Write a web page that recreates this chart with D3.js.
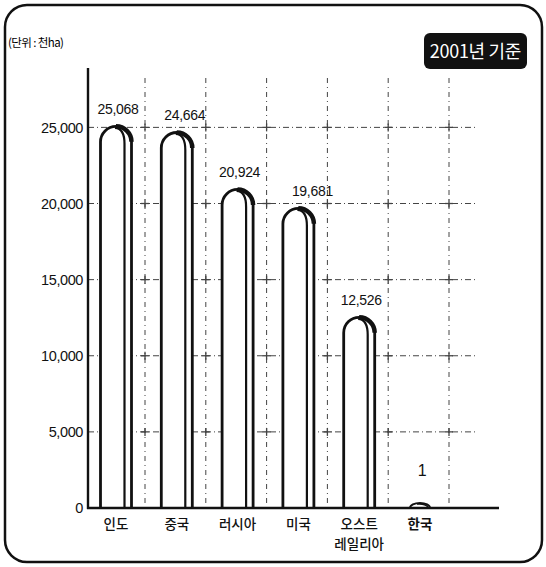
<!DOCTYPE html>
<html>
<head>
<meta charset="utf-8">
<script src="https://cdn.jsdelivr.net/npm/d3@7"></script>
<style>
  html, body { margin: 0; padding: 0; background: #fff; }
  svg { display: block; }
</style>
</head>
<body>
<div id="chart"></div>
<script>
// 국가별 경지면적 (2001년 기준, 단위: 천ha)
const countries = ["인도", "중국", "러시아", "미국", "오스트레일리아", "한국"];
const labelLines = [["인도"], ["중국"], ["러시아"], ["미국"], ["오스트", "레일리아"], ["한국"]];
const areas = [25068, 24664, 20924, 19681, 12526, 1];
const yTicks = [0, 5000, 10000, 15000, 20000, 25000];

const W = 546, H = 567;
const M = { top: 68, left: 88, bottom: 59 };
const baseY = H - M.bottom;

const svg = d3.select("#chart").append("svg").attr("width", W).attr("height", H);

const data = countries.map((c, i) => ({ name: c, lines: labelLines[i], value: areas[i] }));

const x = d3.scalePoint().domain(countries).range([116, 420]);
const y = d3.scaleLinear().domain([0, 28900]).range([baseY, M.top]);
const bw = 31, r = bw / 2;
const fmt = d3.format(",");

// 바깥 테두리
svg.append("rect")
  .attr("x", 5).attr("y", 5).attr("width", W - 9).attr("height", H - 10)
  .attr("rx", 22).attr("fill", "none").attr("stroke", "#111").attr("stroke-width", 2.5);

// 단위
svg.append("text").attr("x", 8).attr("y", 47)
  .style("font-family", "'Noto Sans CJK KR', sans-serif").style("font-size", "11.5px")
  .style("letter-spacing", "-0.6px").text("(단위 : 천ha)");

// 기준 배지
const badge = svg.append("g").attr("transform", "translate(424,33)");
badge.append("rect").attr("width", 103).attr("height", 36).attr("rx", 6).attr("fill", "#111");
badge.append("text").attr("x", 51.5).attr("y", 25).attr("text-anchor", "middle")
  .style("font-family", "'Noto Sans CJK KR', sans-serif").style("font-size", "18px")
  .style("letter-spacing", "-0.3px").style("fill", "#fff").text("2001년 기준");

// 격자 (점선 + 십자)
const gx = countries.map(c => x(c) + 29);
const grid = svg.append("g").attr("stroke", "#444").attr("stroke-width", 1);
yTicks.filter(t => t > 0).forEach(t => {
  grid.append("line").attr("x1", M.left).attr("x2", 475)
    .attr("y1", y(t)).attr("y2", y(t)).attr("stroke-dasharray", "6,3,1,3");
});
gx.forEach(gxv => {
  grid.append("line").attr("x1", gxv).attr("x2", gxv)
    .attr("y1", 78).attr("y2", baseY).attr("stroke-dasharray", "5,4,1,4");
  yTicks.filter(t => t > 0).forEach(t => {
    grid.append("line").attr("x1", gxv - 4).attr("x2", gxv + 4).attr("y1", y(t)).attr("y2", y(t)).attr("stroke-width", 1.3);
    grid.append("line").attr("x1", gxv).attr("x2", gxv).attr("y1", y(t) - 4).attr("y2", y(t) + 4).attr("stroke-width", 1.3);
  });
});

// 막대 (둥근 튜브 모양)
const bars = svg.append("g");
data.forEach(d => {
  const cx = x(d.name), L = cx - r, R = cx + r;
  const top = y(d.value);
  const h = baseY - top;
  if (h < r) {
    // 아주 작은 값: 납작한 반원
    const hw = 10, hh = Math.max(h, 5);
    bars.append("path")
      .attr("d", `M${cx - hw},${baseY} A${hw},${hh} 0 0 1 ${cx + hw},${baseY}`)
      .attr("fill", "#fff").attr("stroke", "#111").attr("stroke-width", 2);
    bars.append("path")
      .attr("d", `M${cx - 3},${baseY - hh + 1} A${hw},${hh} 0 0 1 ${cx + hw - 2},${baseY - 1}`)
      .attr("fill", "none").attr("stroke", "#111").attr("stroke-width", 1.5);
    return;
  }
  bars.append("path")
    .attr("d", `M${L},${baseY} L${L},${top + r} A${r},${r} 0 0 1 ${R},${top + r} L${R},${baseY}`)
    .attr("fill", "#fff").attr("stroke", "#111").attr("stroke-width", 2.8);
  // 안쪽 하이라이트 선
  const ix = R - 7;
  bars.append("path")
    .attr("d", `M${cx - 1},${top + 1.5} Q${ix},${top + 2} ${ix},${top + r + 2} L${ix},${baseY}`)
    .attr("fill", "none").attr("stroke", "#111").attr("stroke-width", 2.2);
  // 오른쪽 위 두꺼운 그늘
  bars.append("path")
    .attr("d", `M${cx},${top} A${r},${r} 0 0 1 ${R},${top + r}`)
    .attr("fill", "none").attr("stroke", "#111").attr("stroke-width", 4.5);
});

// 값 라벨
svg.append("g").selectAll("text").data(data).join("text")
  .attr("x", d => x(d.name) + (d.name === "미국" ? 14 : d.name === "중국" ? 8 : 2))
  .attr("y", d => d.value < 100 ? y(d.value) - 32 : y(d.value) - 12)
  .attr("text-anchor", "middle")
  .style("font-family", "'Liberation Sans', Arial, sans-serif")
  .style("font-size", d => d.value < 100 ? "16px" : "14px")
  .style("letter-spacing", "-0.3px")
  .style("fill", "#111")
  .text(d => fmt(d.value));

// y축
const yAxis = svg.append("g").attr("transform", `translate(${M.left},0)`)
  .call(d3.axisLeft(y).tickValues(yTicks).tickFormat(d => fmt(d)).tickSize(0).tickPadding(5));
yAxis.select(".domain").remove();
yAxis.selectAll("text")
  .style("font-family", "'Liberation Sans', Arial, sans-serif").style("font-size", "14.5px")
  .style("letter-spacing", "-0.4px").style("fill", "#111");
svg.append("line").attr("x1", M.left).attr("x2", M.left).attr("y1", M.top).attr("y2", baseY + 1)
  .attr("stroke", "#111").attr("stroke-width", 2.4);

// x축
svg.append("line").attr("x1", M.left - 1).attr("x2", 499).attr("y1", baseY).attr("y2", baseY)
  .attr("stroke", "#111").attr("stroke-width", 2.4);

const xl = svg.append("g");
data.forEach(d => {
  d.lines.forEach((ln, i) => {
    xl.append("text").attr("x", x(d.name)).attr("y", baseY + 21 + i * 20)
      .attr("text-anchor", "middle")
      .style("font-family", "'Noto Sans CJK KR', sans-serif").style("font-size", "13.5px")
      .style("font-weight", d.name === "한국" ? "700" : "500").style("fill", "#111")
      .text(ln);
  });
});
</script>
</body>
</html>
